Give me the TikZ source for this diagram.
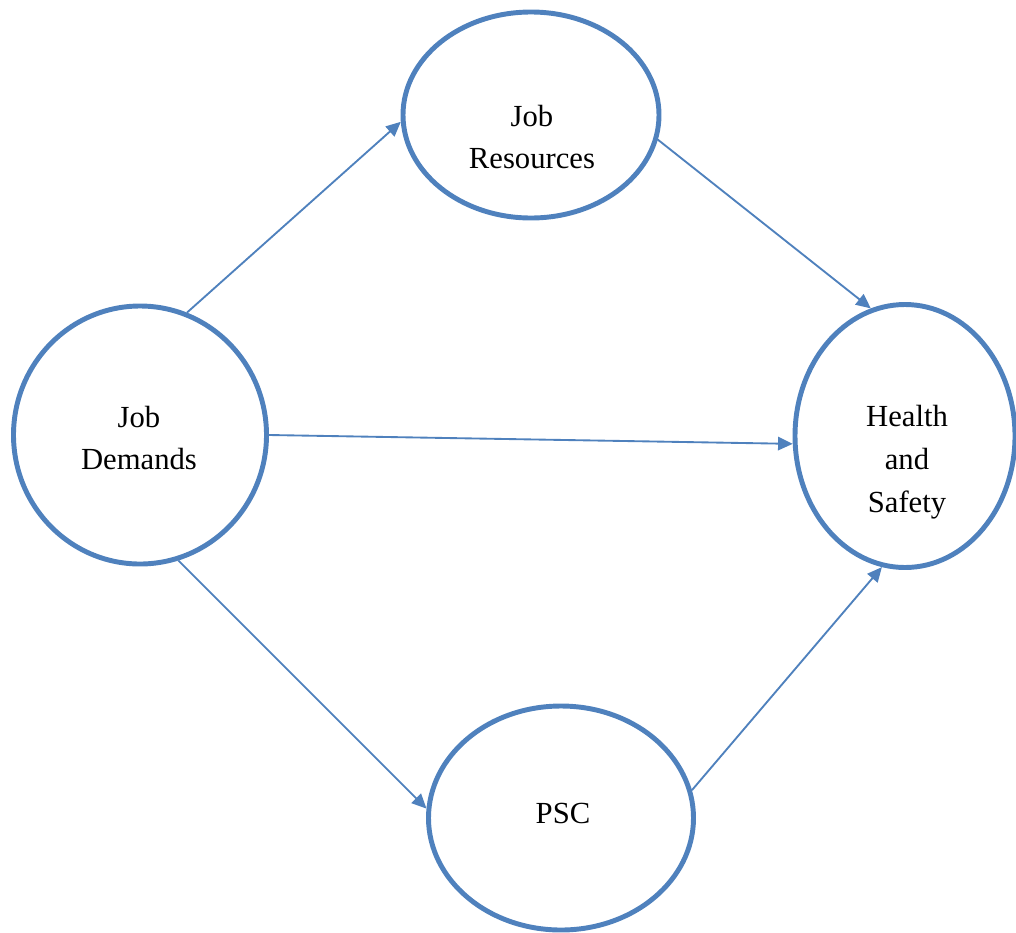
\documentclass[tikz,border=0pt]{standalone}
\usepackage{fontspec}
\setmainfont{Liberation Serif}
\usetikzlibrary{shapes.geometric,arrows.meta}
\definecolor{bubbleblue}{RGB}{79,129,189}
\begin{document}
\begin{tikzpicture}[x=0.75pt,y=-0.75pt,line join=round,
        bubble/.style={draw=bubbleblue,line width=3.7pt,ellipse,inner sep=0pt},
        link/.style={draw=bubbleblue,line width=1.4pt,-{Triangle[length=11pt,width=10pt]}},
        txt/.style={align=center,inner sep=0pt,font=\fontsize{23pt}{32pt}\selectfont}]
    \useasboundingbox (0,0) rectangle (1016,932);
    % the four constructs
    \node[bubble,minimum width=189.75pt,minimum height=193.5pt] (jd) at (140,435) {};
    \node[bubble,minimum width=192pt,minimum height=154.5pt] (jr) at (531,115) {};
    \node[bubble,minimum width=165pt,minimum height=197.25pt] (hs) at (905,436) {};
    \node[bubble,minimum width=198.75pt,minimum height=168pt] (psc) at (561,818) {};
    \node[txt] (jdtext) at (139,438) {Job\\Demands};
    \node[txt] (jrtext) at (532,137) {Job\\Resources};
    \node[txt] (hstext) at (907,462) {Health\\and\\Safety};
    \node[txt] (psctext) at (563,813) {PSC};
    % paths
    \draw[link] (jd.69) -- (jr.183);
    \draw[link] (jr.-11) -- (hs.105);
    \draw[link] (jd.0) -- (hs.184);
    \draw[link] (jd.-73) -- (psc.176);
    \draw[link] (psc.12) -- (hs.-100);
\end{tikzpicture}
\end{document}
